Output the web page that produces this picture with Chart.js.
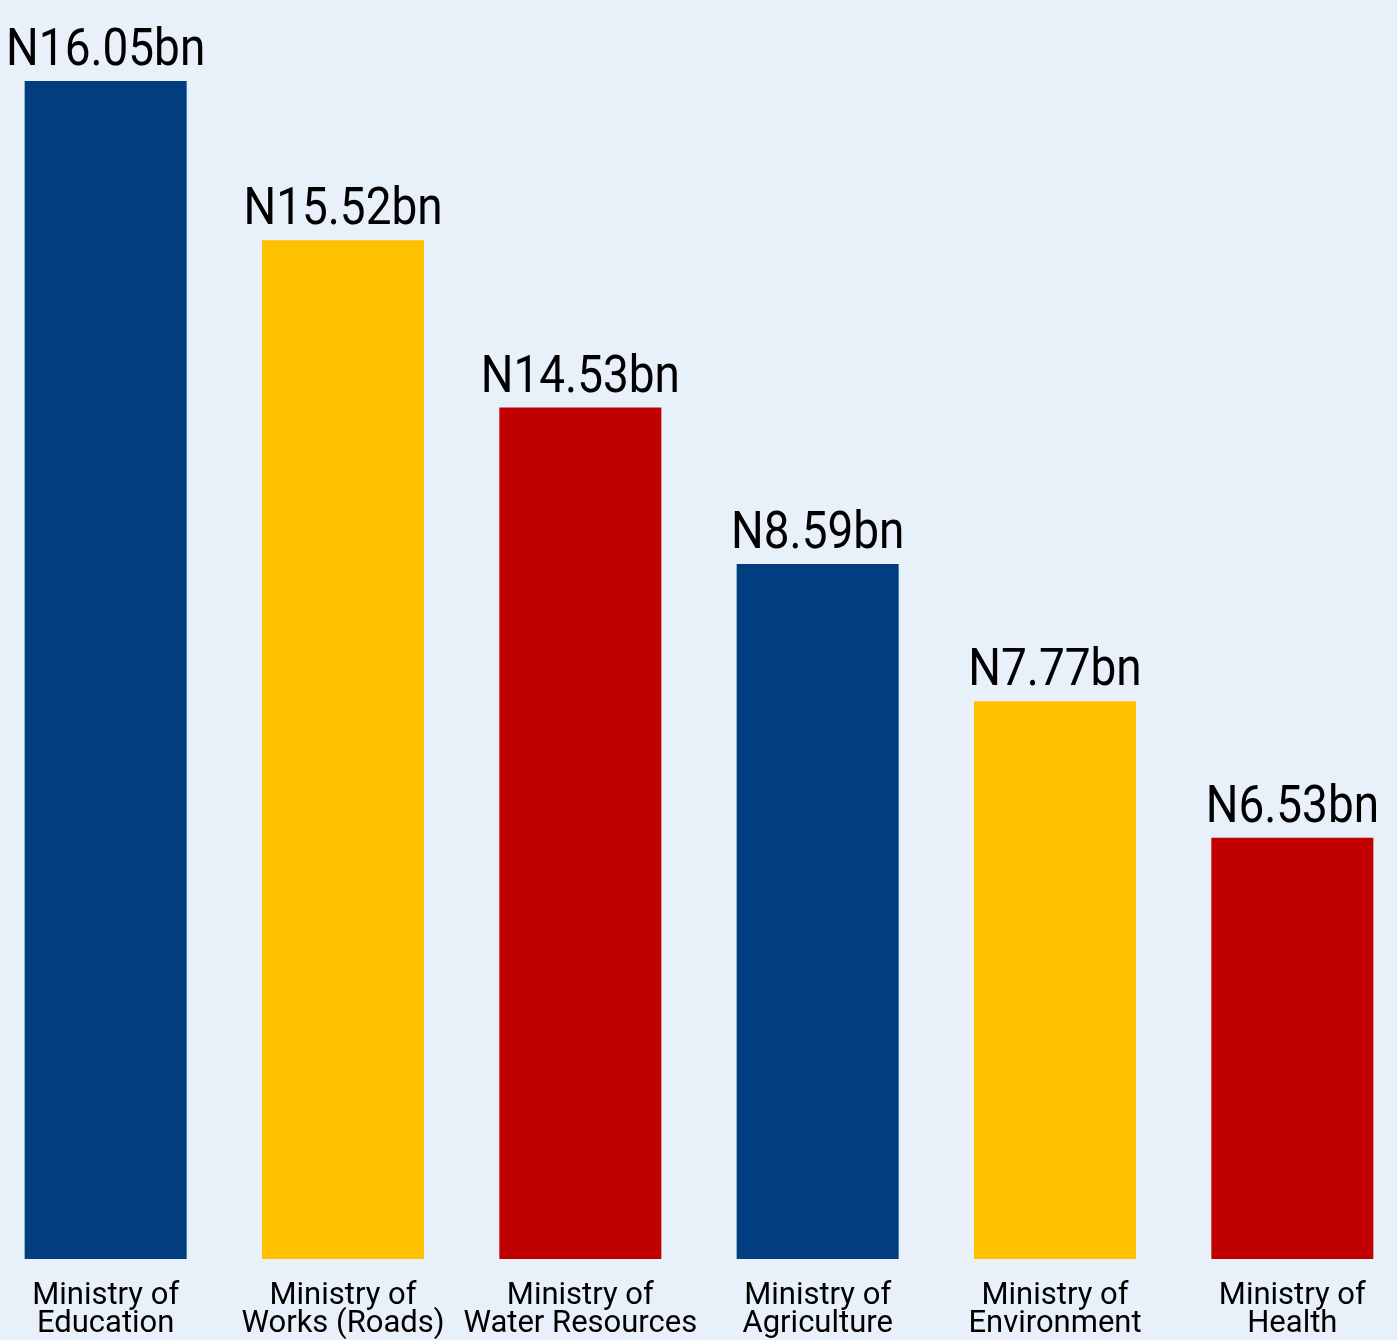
<!DOCTYPE html>
<html>
<head>
<meta charset="utf-8">
<script src="https://cdn.jsdelivr.net/npm/chart.js@4.4.1/dist/chart.umd.min.js"></script>
<style>
  html, body { margin: 0; padding: 0; background: #e8f0f9; overflow: hidden; }
  /* the plot runs slightly past both window edges in the original */
  #wrap { width: 1424px; height: 1340px; margin-left: -13px; }
</style>
</head>
<body>
<div id="wrap"><canvas id="budgetChart"></canvas></div>
<script>
// ministries, as shown under the bars
const ministries = [
    ["Ministry of", "Education"],
    ["Ministry of", "Works (Roads)"],
    ["Ministry of", "Water Resources"],
    ["Ministry of", "Agriculture"],
    ["Ministry of", "Environment"],
    ["Ministry of", "Health"]
];
// amounts written above the bars (N billion)
const amountLabels = ["N16.05bn", "N15.52bn", "N14.53bn", "N8.59bn", "N7.77bn", "N6.53bn"];
// bar lengths as drawn in the picture (the bars are not to scale with the labels)
const barLengths = [16.05, 13.88, 11.60, 9.47, 7.60, 5.74];
const barColors = ["#023e7f", "#ffc000", "#c00000", "#023e7f", "#ffc000", "#c00000"];

const ctx = document.getElementById("budgetChart").getContext("2d");

// draws the amount above each bar, slightly condensed like the original
const amountLabelPlugin = {
    id: "amountLabels",
    afterDatasetsDraw(chart) {
        const c = chart.ctx;
        const bars = chart.getDatasetMeta(0).data;
        c.save();
        c.fillStyle = "#000";
        c.font = "51px Roboto";
        c.textAlign = "center";
        c.textBaseline = "alphabetic";
        bars.forEach((bar, i) => {
            c.save();
            c.translate(bar.x, bar.y - 16);
            c.scale(0.9, 1);
            c.fillText(amountLabels[i], 0, 0);
            c.restore();
        });
        c.restore();
    }
};

const budgetChart = new Chart(ctx, {
    type: "bar",
    data: {
        labels: ministries,
        datasets: [{
            data: barLengths,
            backgroundColor: barColors,
            borderWidth: 0,
            barPercentage: 0.6826,
            categoryPercentage: 1
        }]
    },
    options: {
        responsive: true,
        maintainAspectRatio: false,
        animation: false,
        layout: {
            padding: { left: 0, right: 0, top: 81, bottom: 0 }
        },
        plugins: {
            legend: { display: false },
            tooltip: { enabled: false }
        },
        scales: {
            x: {
                grid: { display: false, drawTicks: false },
                border: { display: false },
                ticks: {
                    color: "#000",
                    padding: 23,
                    maxRotation: 0,
                    autoSkip: false,
                    font: { family: "Roboto", size: 31, lineHeight: 0.9 }
                },
                afterFit(scale) {
                    scale.height = 81;
                }
            },
            y: {
                display: false,
                min: 0,
                max: Math.max(...barLengths)
            }
        }
    },
    plugins: [amountLabelPlugin]
});
</script>
</body>
</html>
